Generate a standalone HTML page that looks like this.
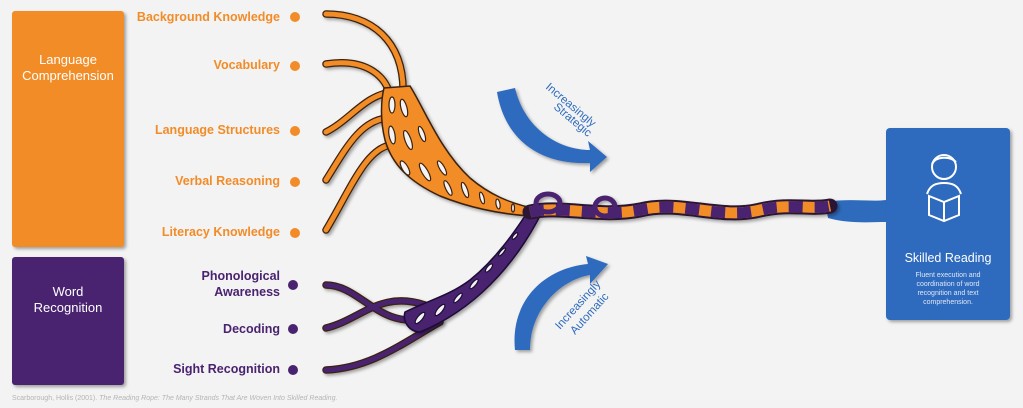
<!DOCTYPE html>
<html><head><meta charset="utf-8"><style>
html,body{margin:0;padding:0;background:#f3f3f3;}
body{width:1023px;height:408px;overflow:hidden;position:relative;font-family:"Liberation Sans",sans-serif;}
svg{position:absolute;left:0;top:0;}
</style></head><body>
<svg width="1023" height="408" viewBox="0 0 1023 408">
<defs>
<filter id="sh" x="-20%" y="-20%" width="140%" height="140%"><feDropShadow dx="2" dy="2" stdDeviation="1.5" flood-color="#000" flood-opacity="0.35"/></filter>
</defs>
<rect x="12" y="11" width="112" height="236" rx="3" fill="#f28c28" filter="url(#sh)"/>
<rect x="12" y="257" width="112" height="128" rx="3" fill="#4a2370" filter="url(#sh)"/>
<text x="68" y="64" fill="#fff" font-size="13" text-anchor="middle">Language</text>
<text x="68" y="80" fill="#fff" font-size="13" text-anchor="middle">Comprehension</text>
<text x="68" y="296" fill="#fff" font-size="13" text-anchor="middle">Word</text>
<text x="68" y="312" fill="#fff" font-size="13" text-anchor="middle">Recognition</text>
<g font-size="12.5" font-weight="bold" text-anchor="end" fill="#f28c28">
<text x="280" y="21">Background Knowledge</text>
<text x="280" y="69">Vocabulary</text>
<text x="280" y="134">Language Structures</text>
<text x="280" y="185">Verbal Reasoning</text>
<text x="280" y="236">Literacy Knowledge</text>
</g>
<g font-size="12.5" font-weight="bold" text-anchor="end" fill="#4a2370">
<text x="280" y="280">Phonological</text>
<text x="280" y="296">Awareness</text>
<text x="280" y="333">Decoding</text>
<text x="280" y="373">Sight Recognition</text>
</g>
<g fill="#f28c28"><circle cx="295" cy="17" r="5"/><circle cx="295" cy="66" r="5"/><circle cx="295" cy="131" r="5"/><circle cx="295" cy="182" r="5"/><circle cx="295" cy="233" r="5"/></g>
<g fill="#4a2370"><circle cx="293" cy="285" r="5"/><circle cx="293" cy="329" r="5"/><circle cx="293" cy="370" r="5"/></g>

<path d="M825 202 C850 198 870 202 886 200 L886 222 C870 222 850 224 828 218 Z" fill="#2f6bbd"/>

<g fill="none" stroke-linecap="round" filter="url(#sh)">
<g stroke="#3a2010" stroke-width="7.5">
<path d="M326 14 C370 14 405 40 403 95"/>
<path d="M326 64 C365 58 385 75 390 95"/>
<path d="M326 132 C350 120 365 95 392 92"/>
<path d="M326 180 C345 150 360 120 388 118"/>
<path d="M326 230 C350 190 365 150 390 145"/>
<path d="M326 285 C360 285 380 330 425 318"/>
<path d="M326 328 C360 320 380 290 425 305"/>
<path d="M326 370 C370 368 400 345 440 322"/>
</g>
<g stroke="#f28c28" stroke-width="5">
<path d="M326 14 C370 14 405 40 403 95"/>
<path d="M326 64 C365 58 385 75 390 95"/>
<path d="M326 132 C350 120 365 95 392 92"/>
<path d="M326 180 C345 150 360 120 388 118"/>
<path d="M326 230 C350 190 365 150 390 145"/>
</g>
<g stroke="#4a2370" stroke-width="5">
<path d="M326 285 C360 285 380 330 425 318"/>
<path d="M326 328 C360 320 380 290 425 305"/>
<path d="M326 370 C370 368 400 345 440 322"/>
</g>
</g>

<g filter="url(#sh)">
<!-- orange bundle -->
<path d="M384 88 L410 86 C425 110 440 150 470 178 C490 195 510 203 532 208 L530 216 C500 214 470 208 440 196 C410 182 392 165 385 140 C380 120 381 100 384 88 Z" fill="#f28c28" stroke="#3a2010" stroke-width="1.5"/>
<g fill="#f3f3f3" stroke="#3a2010" stroke-width="1.2">
<ellipse cx="392" cy="105" rx="3" ry="8"/>
<ellipse cx="404" cy="108" rx="3" ry="9" transform="rotate(-15 404 108)"/>
<ellipse cx="392" cy="135" rx="3" ry="9" transform="rotate(-10 392 135)"/>
<ellipse cx="408" cy="140" rx="3" ry="10" transform="rotate(-20 408 140)"/>
<ellipse cx="422" cy="134" rx="2.5" ry="8" transform="rotate(-20 422 134)"/>
<ellipse cx="405" cy="168" rx="3" ry="8" transform="rotate(-30 405 168)"/>
<ellipse cx="425" cy="172" rx="3" ry="10" transform="rotate(-30 425 172)"/>
<ellipse cx="442" cy="168" rx="2.5" ry="8" transform="rotate(-30 442 168)"/>
<ellipse cx="448" cy="188" rx="2.5" ry="8" transform="rotate(-25 448 188)"/>
<ellipse cx="465" cy="190" rx="2.5" ry="8" transform="rotate(-20 465 190)"/>
<ellipse cx="482" cy="198" rx="2" ry="6" transform="rotate(-15 482 198)"/>
<ellipse cx="498" cy="204" rx="2" ry="5" transform="rotate(-10 498 204)"/>
<ellipse cx="513" cy="208" rx="1.5" ry="4"/>
</g>
<!-- purple bundle -->
<path d="M405 312 C430 300 450 295 470 280 C495 260 515 232 532 205 L542 212 C528 240 510 265 490 285 C470 305 445 322 420 332 C410 332 402 322 405 312 Z" fill="#4a2370" stroke="#1e0a35" stroke-width="1.5"/>
<g fill="#f3f3f3" stroke="#1e0a35" stroke-width="1.2">
<ellipse cx="420" cy="318" rx="2.5" ry="7" transform="rotate(40 420 318)"/>
<ellipse cx="440" cy="310" rx="2.5" ry="7" transform="rotate(40 440 310)"/>
<ellipse cx="458" cy="298" rx="2" ry="6" transform="rotate(40 458 298)"/>
<ellipse cx="474" cy="284" rx="2" ry="6" transform="rotate(40 474 284)"/>
<ellipse cx="489" cy="268" rx="2" ry="5" transform="rotate(40 489 268)"/>
<ellipse cx="502" cy="252" rx="1.5" ry="5" transform="rotate(40 502 252)"/>
<ellipse cx="515" cy="236" rx="1.5" ry="4" transform="rotate(40 515 236)"/>
</g>
<!-- main rope -->
<g fill="none">
<path d="M530 212 C560 205 600 218 640 210 C680 200 720 220 760 210 C790 203 810 210 830 206" stroke="#2a1530" stroke-width="15" stroke-linecap="round"/>
<path d="M530 212 C560 205 600 218 640 210 C680 200 720 220 760 210 C790 203 810 210 830 206" stroke="#f28c28" stroke-width="11"/>
<path d="M530 212 C560 205 600 218 640 210 C680 200 720 220 760 210 C790 203 810 210 830 206" stroke="#4a2370" stroke-width="11" stroke-dasharray="14 12"/>
<ellipse cx="548" cy="203" rx="12" ry="9" stroke="#4a2370" stroke-width="5"/>
<ellipse cx="605" cy="207" rx="10" ry="9" stroke="#4a2370" stroke-width="5"/>
</g>
</g>

<path d="M497 92 L515 88 C525 130 560 150 590 150 L588 141 L607 157 L590 172 L590 163 C540 165 505 140 497 92 Z" fill="#2f6bbd" filter="url(#sh)"/>
<path d="M515 350 L530 350 C530 310 560 280 590 275 L590 284 L608 264 L586 256 L588 264 C545 268 510 300 515 350 Z" fill="#2f6bbd" filter="url(#sh)"/>
<text x="0" y="0" font-size="11.5" fill="#2f6bbd" transform="translate(545 88) rotate(40)">Increasingly</text>
<text x="0" y="0" font-size="11.5" fill="#2f6bbd" transform="translate(553 108) rotate(40)">Strategic</text>
<text x="0" y="0" font-size="11.5" fill="#2f6bbd" transform="translate(560 330) rotate(-48)">Increasingly</text>
<text x="0" y="0" font-size="11.5" fill="#2f6bbd" transform="translate(575 335) rotate(-48)">Automatic</text>

<rect x="886" y="128" width="124" height="192" rx="4" fill="#2f6bbd" filter="url(#sh)"/>
<g fill="none" stroke="#fff" stroke-width="2">
<circle cx="944" cy="167" r="12"/>
<path d="M932 164 C936 156 950 156 956 162"/>
<path d="M927 194 C930 185 936 183 944 183 C952 183 958 185 961 194"/>
<path d="M929 196 L944 202 L959 196 L959 215 L944 221 L929 215 Z M944 202 L944 221"/>
</g>
<text x="948" y="262" fill="#fff" font-size="12.5" text-anchor="middle">Skilled Reading</text>
<g fill="#e0e8f5" font-size="7" text-anchor="middle">
<text x="948" y="277">Fluent execution and</text>
<text x="948" y="286">coordination of word</text>
<text x="948" y="295">recognition and text</text>
<text x="948" y="304">comprehension.</text>
</g>
<text x="12" y="400" font-size="7" fill="#b5b5b5">Scarborough, Hollis (2001). <tspan font-style="italic">The Reading Rope: The Many Strands That Are Woven Into Skilled Reading.</tspan></text>
</svg>
</body></html>
